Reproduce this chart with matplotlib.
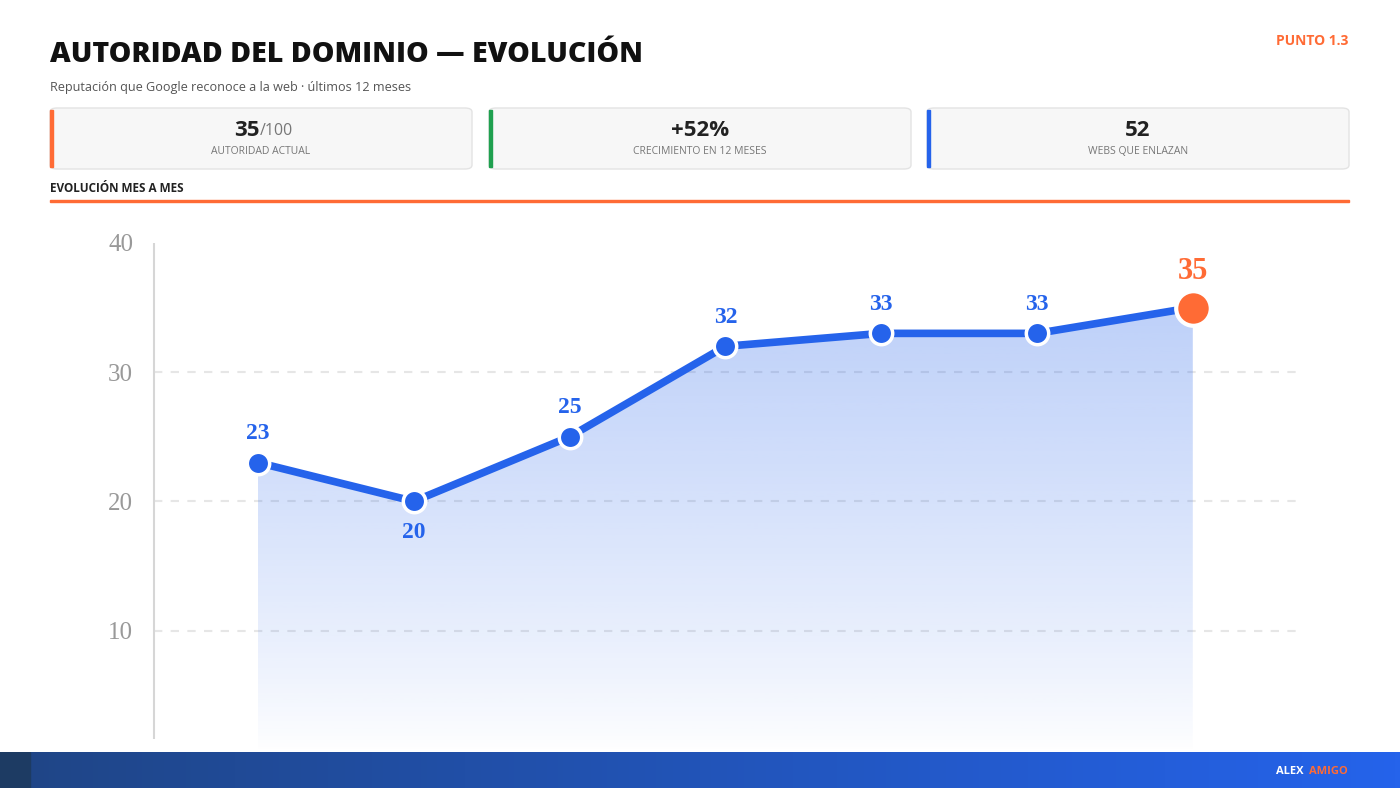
import numpy as np
import matplotlib.pyplot as plt
from matplotlib.patches import FancyBboxPatch, Rectangle, Polygon
from matplotlib.colors import to_rgb

# datos
meses = [0, 1, 2, 3, 4, 5, 6]
autoridad = [23, 20, 25, 32, 33, 33, 35]
y_ticks = [10, 20, 30, 40]

kpi_valores = ["35", "+52%", "52"]
kpi_sufijos = ["/100", "", ""]
kpi_etiquetas = ["AUTORIDAD ACTUAL", "CRECIMIENTO EN 12 MESES", "WEBS QUE ENLAZAN"]
kpi_colores = ["#ff6b35", "#1fa04f", "#2563eb"]

AZUL = "#2563eb"
NARANJA = "#ff6b35"
W, H = 1400, 788

plt.rcParams['font.family'] = ['Open Sans', 'DejaVu Sans']

fig = plt.figure(figsize=(W / 100, H / 100), dpi=100)
fig.patch.set_facecolor("white")


def fx(px):
    return px / W


def fy(py):
    return 1 - py / H


# cabecera
fig.text(fx(50), fy(55), "AUTORIDAD DEL DOMINIO — EVOLUCIÓN", fontsize=20.5,
         fontweight='heavy', color="#111111", va='center', ha='left')
fig.text(fx(50), fy(87), "Reputación que Google reconoce a la web · últimos 12 meses",
         fontsize=9.1, color="#555555", va='center', ha='left')
fig.text(fx(1348), fy(41), "PUNTO 1.3", fontsize=10, fontweight='bold',
         color=NARANJA, va='center', ha='right')

# tarjetas KPI
card_x = [50, 489, 927]
card_w = 422
for i in range(3):
    x0 = card_x[i]
    box = FancyBboxPatch((fx(x0), fy(169)), fx(card_w), 61 / H,
                         boxstyle="round,pad=0,rounding_size=0.005",
                         transform=fig.transFigure, facecolor="#f7f7f7",
                         edgecolor="#e3e3e3", linewidth=1)
    fig.add_artist(box)
    fig.add_artist(Rectangle((fx(x0), fy(167)), fx(2.5), 57 / H,
                             transform=fig.transFigure, color=kpi_colores[i]))
    cx = x0 + card_w / 2
    if kpi_sufijos[i]:
        fig.text(fx(cx - 1), fy(130), kpi_valores[i], fontsize=16, fontweight='bold',
                 color="#222222", va='center', ha='right')
        fig.text(fx(cx - 1), fy(131), kpi_sufijos[i], fontsize=11.5,
                 color="#777777", va='center', ha='left')
    else:
        fig.text(fx(cx), fy(130), kpi_valores[i], fontsize=16, fontweight='bold',
                 color="#222222", va='center', ha='center')
    fig.text(fx(cx), fy(152), kpi_etiquetas[i], fontsize=7.5, color="#777777",
             va='center', ha='center')

fig.text(fx(50), fy(188), "EVOLUCIÓN MES A MES", fontsize=8.5, fontweight='bold',
         color="#222222", va='center', ha='left')
fig.add_artist(Rectangle((fx(50), fy(202)), fx(1299), 2 / H,
                         transform=fig.transFigure, color=NARANJA))

# pie con degradado
pie = fig.add_axes([0, 0, 1, 36 / H])
pie.axis('off')
grad = np.linspace(0, 1, 256)
c1 = np.array(to_rgb("#1f4585"))
c2 = np.array(to_rgb("#2563eb"))
img = c1[None, :] * (1 - grad[:, None]) + c2[None, :] * grad[:, None]
pie.imshow(img[None, :, :], aspect='auto', extent=(0, 1, 0, 1))
pie.add_patch(Rectangle((0, 0), 30 / W, 1, color="#1d3b63"))
pie.set_xlim(0, 1)
pie.set_ylim(0, 1)
fig.text(fx(1348), fy(771), "AMIGO", fontsize=8, fontweight='bold', color=NARANJA,
         va='center', ha='right')
fig.text(fx(1304), fy(771), "ALEX", fontsize=8, fontweight='bold', color="white",
         va='center', ha='right')

# gráfico
ax_l, ax_r, ax_t, ax_b = 154, 1300, 230, 752
ax = fig.add_axes([fx(ax_l), fy(ax_b), fx(ax_r - ax_l), (ax_b - ax_t) / H])
ax.set_facecolor("none")
x0_val = -104 / 155.8
x1_val = (1300 - 258) / 155.8
ax.set_xlim(x0_val, x1_val)
ax.set_ylim(0.6, 41.0)
for s in ax.spines.values():
    s.set_visible(False)
ax.set_xticks([])
ax.set_yticks(y_ticks)
ax.set_yticklabels([str(t) for t in y_ticks], family='Liberation Serif',
                   fontsize=18, color="#999999")
ax.tick_params(axis='y', length=0, pad=15)

# eje vertical
ax.plot([x0_val, x0_val], [1.6, 40], color="#d6d6d6", linewidth=1.5,
        clip_on=False, solid_capstyle='butt')

for t in y_ticks[:-1]:
    ax.axhline(t, color="#e6e6e6", linewidth=1.5, linestyle=(0, (4, 4)), zorder=1)

# relleno degradado
verts = [(meses[0], 0.6)] + list(zip(meses, autoridad)) + [(meses[-1], 0.6)]
poly = Polygon(verts, closed=True, facecolor='none', edgecolor='none')
ax.add_patch(poly)
alpha = np.linspace(0.0, 1.0, 256) ** 0.8 * 0.3
grad_img = np.zeros((256, 1, 4))
grad_img[:, 0, :3] = to_rgb(AZUL)
grad_img[:, 0, 3] = alpha
im = ax.imshow(grad_img, aspect='auto', origin='lower',
               extent=(meses[0], meses[-1], 0.6, max(autoridad)), zorder=2)
im.set_clip_path(poly)

ax.plot(meses, autoridad, color=AZUL, linewidth=5.5, zorder=3,
        solid_capstyle='round')
ax.scatter(meses[:-1], autoridad[:-1], s=260, color=AZUL, edgecolor='white',
           linewidth=2.5, zorder=4)
ax.scatter(meses[-1:], autoridad[-1:], s=620, color=NARANJA, edgecolor='white',
           linewidth=3, zorder=4)

for i, (m, v) in enumerate(zip(meses, autoridad)):
    if i == len(meses) - 1:
        ax.annotate(str(v), (m, v), xytext=(0, 36), textcoords='offset pixels',
                    ha='center', va='center', family='Liberation Serif',
                    fontsize=22, fontweight='bold', color=NARANJA, zorder=5)
    else:
        prev = autoridad[i - 1] if i > 0 else v
        nxt = autoridad[i + 1]
        dy = -31 if (v < prev and v < nxt) else 29
        ax.annotate(str(v), (m, v), xytext=(0, dy), textcoords='offset pixels',
                    ha='center', va='center', family='Liberation Serif',
                    fontsize=17, fontweight='bold', color=AZUL, zorder=5)

fig.savefig("out.png", dpi=100, facecolor="white")
